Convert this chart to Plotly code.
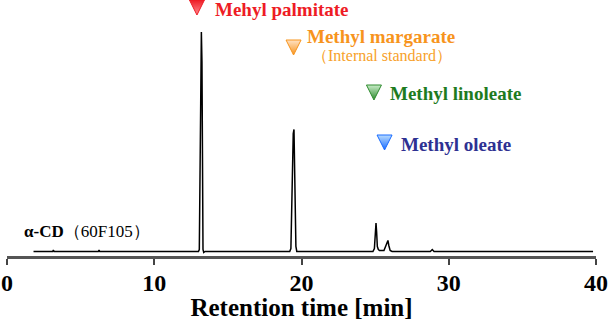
import plotly.graph_objects as go

# Chromatogram trace: retention time [min] and detector signal (arbitrary units)
time_min = [1.8, 2.6, 3.1, 3.15, 3.2, 4.4, 6.2, 6.25, 6.3, 8.1, 9.5, 11.2, 12.9,
            13.00, 13.06, 13.09, 13.12, 13.16, 13.20, 13.24, 13.27, 13.31, 13.36, 13.45,
            15.0, 17.2, 19.20, 19.28, 19.33, 19.38, 19.44, 19.49, 19.53, 19.57, 19.62, 19.68,
            21.5, 23.4, 24.85, 24.95, 25.02, 25.06, 25.10, 25.15, 25.22, 25.30,
            25.60, 25.72, 25.82, 25.87, 25.93, 26.02, 26.15, 27.5,
            28.75, 28.88, 29.00, 31.0, 33.5, 36.0, 38.0, 39.8]
signal = [0, 0, 0, 1.5, 0, 0, 0, 1.5, 0, 0, 0, 0, 0,
          0, 2, 55, 100, 190, 219.5, 190, 70, 2, -1, 0,
          0, 0, 0, 3, 40, 80, 118, 122, 90, 60, 5, 0,
          0, 0, 0, 3, 22, 28.5, 20, 5, 2, 1,
          1, 5, 10, 11, 6, 1, 0, 0,
          0, 2, 0, 0, 0, 0, 0, 0]

# Peak identifications
peak_names = ["Mehyl palmitate", "Methyl margarate", "Methyl linoleate", "Methyl oleate"]
peak_colors = ["#ee1c25", "#f7941d", "#1e7b1e", "#2e3192"]
marker_top = ["#ee1c25", "#ffe2c4", "#c8ecc8", "#b8dcff"]
marker_bottom = ["#ff8a90", "#f7941d", "#2e8b2e", "#1a6cff"]
marker_edge = ["#ee1c25", "#f7941d", "#2e8b2e", "#1a6cff"]
marker_x = [12.90, 19.46, 24.92, 25.64]
marker_y = [236.5, 196.5, 151.5, 101.5]
label_x = [14.05, 20.30, 25.95, 26.70]
label_y = [242.5, 215.0, 158.5, 107.5]

x_ticks = [0, 10, 20, 30, 40]

serif = "Liberation Serif"

fig = go.Figure()

fig.add_trace(go.Scatter(
    x=time_min, y=signal, mode="lines",
    line=dict(color="black", width=1.5),
    hoverinfo="skip", showlegend=False,
))

for i in range(len(peak_names)):
    fig.add_trace(go.Scatter(
        x=[marker_x[i]], y=[marker_y[i]], mode="markers",
        marker=dict(symbol="arrow-down", size=15, color=marker_top[i],
                    gradient=dict(type="vertical", color=marker_bottom[i]),
                    line=dict(color=marker_edge[i], width=1)),
        hoverinfo="skip", showlegend=False,
    ))
    fig.add_annotation(
        x=label_x[i], y=label_y[i], xref="x", yref="y",
        text=f"<b>{peak_names[i]}</b>", showarrow=False,
        xanchor="left", yanchor="middle", borderpad=0,
        font=dict(family=serif, size=19, color=peak_colors[i]),
    )

fig.add_annotation(
    x=25.50, y=196.0, xref="x", yref="y",
    text="（Internal standard）", showarrow=False,
    xanchor="center", yanchor="middle", borderpad=0,
    font=dict(family=serif, size=16, color="#f7a12a"),
)

fig.add_annotation(
    x=1.0, y=20.5, xref="x", yref="y",
    text="<b>α-CD</b>（60F105）", showarrow=False,
    xanchor="left", yanchor="middle",
    font=dict(family=serif, size=17, color="black"),
)

fig.update_layout(
    width=609, height=321,
    margin=dict(l=7, r=13, t=0, b=65),
    paper_bgcolor="white", plot_bgcolor="white",
    xaxis=dict(
        range=[0, 40], tickvals=x_ticks, ticktext=[str(v) for v in x_ticks],
        showgrid=False, zeroline=False,
        showline=True, linecolor="#555555", linewidth=3,
        ticks="outside", ticklen=6, tickwidth=1.5, tickcolor="#444444",
        ticklabelstandoff=-3,
        tickfont=dict(family=serif, size=24, color="black", weight="bold"),
        title=dict(text="<b>Retention time [min]</b>", standoff=3,
                   font=dict(family=serif, size=25, color="black")),
    ),
    yaxis=dict(range=[-4.5, 251.5], visible=False),
)

fig.write_html("out.html")
